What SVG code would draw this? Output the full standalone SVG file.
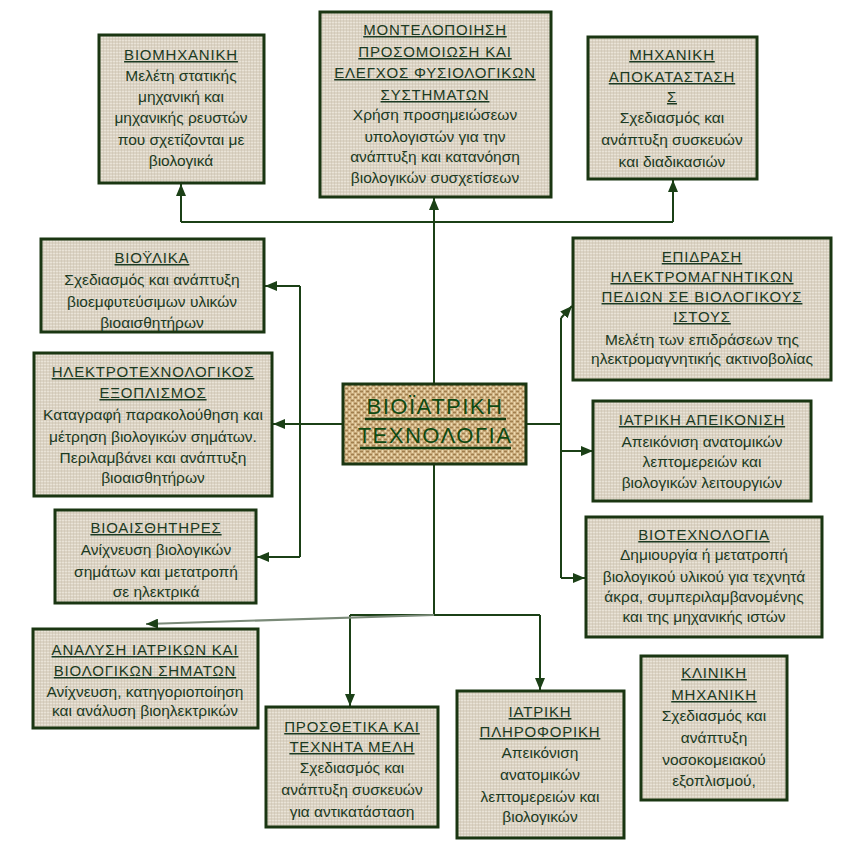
<svg xmlns="http://www.w3.org/2000/svg" width="866" height="862" viewBox="0 0 866 862">
<defs>
<pattern id="linen" width="6" height="6" patternUnits="userSpaceOnUse">
<rect width="6" height="6" fill="#dbd3c4"/>
<path d="M0 1.5H6M0 4.5H6" stroke="#e9e3d7" stroke-width="1"/>
<path d="M1.5 0V6M4.5 0V6" stroke="#c7bea9" stroke-width="0.8" opacity="0.55"/>
</pattern>
<pattern id="burlap" width="6" height="6" patternUnits="userSpaceOnUse">
<rect width="6" height="6" fill="#d0b283"/>
<path d="M0 1.5H3M3 4.5H6" stroke="#a07f4e" stroke-width="1.3"/>
<path d="M4.5 0V3M1.5 3V6" stroke="#ecd9b0" stroke-width="1.3"/>
</pattern>
<marker id="ah" viewBox="0 0 12 10" refX="12" refY="5" markerWidth="12" markerHeight="10" markerUnits="userSpaceOnUse" orient="auto">
<path d="M0 0L12 5L0 10Z" fill="#1b4016"/>
</marker>
</defs>
<style>
.box{fill:url(#linen);stroke:#1a3612;stroke-width:3}
.core{fill:url(#burlap);stroke:#1a3612;stroke-width:3}
text{font-family:"Liberation Sans","DejaVu Sans",sans-serif;font-size:15.5px;fill:#1b3a22;text-anchor:middle}
.t{font-size:15px;text-decoration:underline;text-decoration-thickness:2px;letter-spacing:0.8px}
.c{font-size:22px;fill:#0f4a12;letter-spacing:1.5px}
.ul{stroke:#0f3a10;stroke-width:2.5}
.ln{fill:none;stroke:#1b4016;stroke-width:2}
.gl{fill:none;stroke:#7a8a78;stroke-width:2}
</style>
<rect width="866" height="862" fill="#ffffff"/>
<g id="connectors">
<path class="ln" d="M434 384V222M181 222H673"/>
<path class="ln" d="M181 222V184" marker-end="url(#ah)"/>
<path class="ln" d="M434 222V198" marker-end="url(#ah)"/>
<path class="ln" d="M673 222V180" marker-end="url(#ah)"/>
<path class="ln" d="M343 424H273" marker-end="url(#ah)"/>
<path class="ln" d="M300 286V557"/>
<path class="ln" d="M300 286H265" marker-end="url(#ah)"/>
<path class="ln" d="M300 557H257" marker-end="url(#ah)"/>
<path class="ln" d="M526 424H561M561 318V578"/>
<path class="ln" d="M561 318L572 306" marker-end="url(#ah)"/>
<path class="ln" d="M561 451H593" marker-end="url(#ah)"/>
<path class="ln" d="M561 578H585" marker-end="url(#ah)"/>
<path class="ln" d="M434 464V615M350 615H540"/>
<path class="ln" d="M350 615V706" marker-end="url(#ah)"/>
<path class="ln" d="M540 615V690" marker-end="url(#ah)"/>
<path class="gl" d="M434 615L146 624" marker-end="url(#ah)"/>
</g>
<g id="center">
<rect class="core" x="343" y="384" width="183" height="80"/>
<text class="c" x="435" y="414">ΒΙΟΪΑΤΡΙΚΗ</text>
<text class="c" x="435" y="443">ΤΕΧΝΟΛΟΓΙΑ</text>
<path class="ul" d="M365 419H506M360 448H511"/>
</g>
<g id="biomechaniki">
<rect class="box" x="99" y="35" width="165" height="148"/>
<text class="t" x="181" y="60">ΒΙΟΜΗΧΑΝΙΚΗ</text>
<text x="181" y="81">Μελέτη στατικής</text>
<text x="181" y="102">μηχανική και</text>
<text x="181" y="123">μηχανικής ρευστών</text>
<text x="181" y="145">που σχετίζονται με</text>
<text x="181" y="166">βιολογικά</text>
</g>
<g id="montelopoiisi">
<rect class="box" x="320" y="12" width="231" height="185"/>
<text class="t" x="435" y="35">ΜΟΝΤΕΛΟΠΟΙΗΣΗ</text>
<text class="t" x="435" y="57">ΠΡΟΣΟΜΟΙΩΣΗ ΚΑΙ</text>
<text class="t" x="435" y="78">ΕΛΕΓΧΟΣ ΦΥΣΙΟΛΟΓΙΚΩΝ</text>
<text class="t" x="435" y="100">ΣΥΣΤΗΜΑΤΩΝ</text>
<text x="435" y="120">Χρήση προσημειώσεων</text>
<text x="435" y="142">υπολογιστών για την</text>
<text x="435" y="162">ανάπτυξη και κατανόηση</text>
<text x="435" y="183">βιολογικών συσχετίσεων</text>
</g>
<g id="apokatastasi">
<rect class="box" x="588" y="37" width="169" height="142"/>
<text class="t" x="672" y="60">ΜΗΧΑΝΙΚΗ</text>
<text class="t" x="672" y="82">ΑΠΟΚΑΤΑΣΤΑΣΗ</text>
<text class="t" x="672" y="102">Σ</text>
<text x="672" y="123">Σχεδιασμός και</text>
<text x="672" y="145">ανάπτυξη συσκευών</text>
<text x="672" y="167">και διαδικασιών</text>
</g>
<g id="bioylika">
<rect class="box" x="41" y="239" width="223" height="93"/>
<text class="t" x="152" y="263">ΒΙΟΫΛΙΚΑ</text>
<text x="152" y="285">Σχεδιασμός και ανάπτυξη</text>
<text x="152" y="307">βιοεμφυτεύσιμων υλικών</text>
<text x="152" y="328">βιοαισθητήρων</text>
</g>
<g id="ilektrotech">
<rect class="box" x="34" y="353" width="238" height="143"/>
<text class="t" x="153" y="377">ΗΛΕΚΤΡΟΤΕΧΝΟΛΟΓΙΚΟΣ</text>
<text class="t" x="153" y="398">ΕΞΟΠΛΙΣΜΟΣ</text>
<text x="153" y="420">Καταγραφή παρακολούθηση και</text>
<text x="153" y="442">μέτρηση βιολογικών σημάτων.</text>
<text x="153" y="463">Περιλαμβάνει και ανάπτυξη</text>
<text x="153" y="483">βιοαισθητήρων</text>
</g>
<g id="bioaisthitires">
<rect class="box" x="55" y="510" width="201" height="93"/>
<text class="t" x="156" y="533">ΒΙΟΑΙΣΘΗΤΗΡΕΣ</text>
<text x="156" y="555">Ανίχνευση βιολογικών</text>
<text x="156" y="577">σημάτων και μετατροπή</text>
<text x="156" y="597">σε ηλεκτρικά</text>
</g>
<g id="analysi">
<rect class="box" x="33" y="629" width="225" height="99"/>
<text class="t" x="145" y="655">ΑΝΑΛΥΣΗ ΙΑΤΡΙΚΩΝ ΚΑΙ</text>
<text class="t" x="145" y="676">ΒΙΟΛΟΓΙΚΩΝ ΣΗΜΑΤΩΝ</text>
<text x="145" y="697">Ανίχνευση, κατηγοριοποίηση</text>
<text x="145" y="716">και ανάλυση βιοηλεκτρικών</text>
</g>
<g id="prosthetika">
<rect class="box" x="266" y="707" width="172" height="120"/>
<text class="t" x="352" y="732">ΠΡΟΣΘΕΤΙΚΑ ΚΑΙ</text>
<text class="t" x="352" y="752">ΤΕΧΝΗΤΑ ΜΕΛΗ</text>
<text x="352" y="773">Σχεδιασμός και</text>
<text x="352" y="795">ανάπτυξη συσκευών</text>
<text x="352" y="817">για αντικατάσταση</text>
</g>
<g id="pliroforiki">
<rect class="box" x="457" y="691" width="167" height="147"/>
<text class="t" x="540" y="717">ΙΑΤΡΙΚΗ</text>
<text class="t" x="540" y="737">ΠΛΗΡΟΦΟΡΙΚΗ</text>
<text x="540" y="758">Απεικόνιση</text>
<text x="540" y="780">ανατομικών</text>
<text x="540" y="802">λεπτομερειών και</text>
<text x="540" y="822">βιολογικών</text>
</g>
<g id="kliniki">
<rect class="box" x="641" y="656" width="146" height="144"/>
<text class="t" x="714" y="678">ΚΛΙΝΙΚΗ</text>
<text class="t" x="714" y="700">ΜΗΧΑΝΙΚΗ</text>
<text x="714" y="721">Σχεδιασμός και</text>
<text x="714" y="743">ανάπτυξη</text>
<text x="714" y="765">νοσοκομειακού</text>
<text x="714" y="786">εξοπλισμού,</text>
</g>
<g id="epidrasi">
<rect class="box" x="573" y="238" width="258" height="142"/>
<text class="t" x="702" y="262">ΕΠΙΔΡΑΣΗ</text>
<text class="t" x="702" y="282">ΗΛΕΚΤΡΟΜΑΓΝΗΤΙΚΩΝ</text>
<text class="t" x="702" y="302">ΠΕΔΙΩΝ ΣΕ ΒΙΟΛΟΓΙΚΟΥΣ</text>
<text class="t" x="702" y="322">ΙΣΤΟΥΣ</text>
<text x="702" y="345">Μελέτη των επιδράσεων της</text>
<text x="702" y="364">ηλεκτρομαγνητικής ακτινοβολίας</text>
</g>
<g id="apeikonisi">
<rect class="box" x="593" y="401" width="218" height="100"/>
<text class="t" x="702" y="425">ΙΑΤΡΙΚΗ ΑΠΕΙΚΟΝΙΣΗ</text>
<text x="702" y="447">Απεικόνιση ανατομικών</text>
<text x="702" y="467">λεπτομερειών και</text>
<text x="702" y="488">βιολογικών λειτουργιών</text>
</g>
<g id="biotechnologia">
<rect class="box" x="586" y="517" width="236" height="120"/>
<text class="t" x="704" y="540">ΒΙΟΤΕΧΝΟΛΟΓΙΑ</text>
<text x="704" y="560">Δημιουργία ή μετατροπή</text>
<text x="704" y="582">βιολογικού υλικού για τεχνητά</text>
<text x="704" y="602">άκρα, συμπεριλαμβανομένης</text>
<text x="704" y="622">και της μηχανικής ιστών</text>
</g>
</svg>
